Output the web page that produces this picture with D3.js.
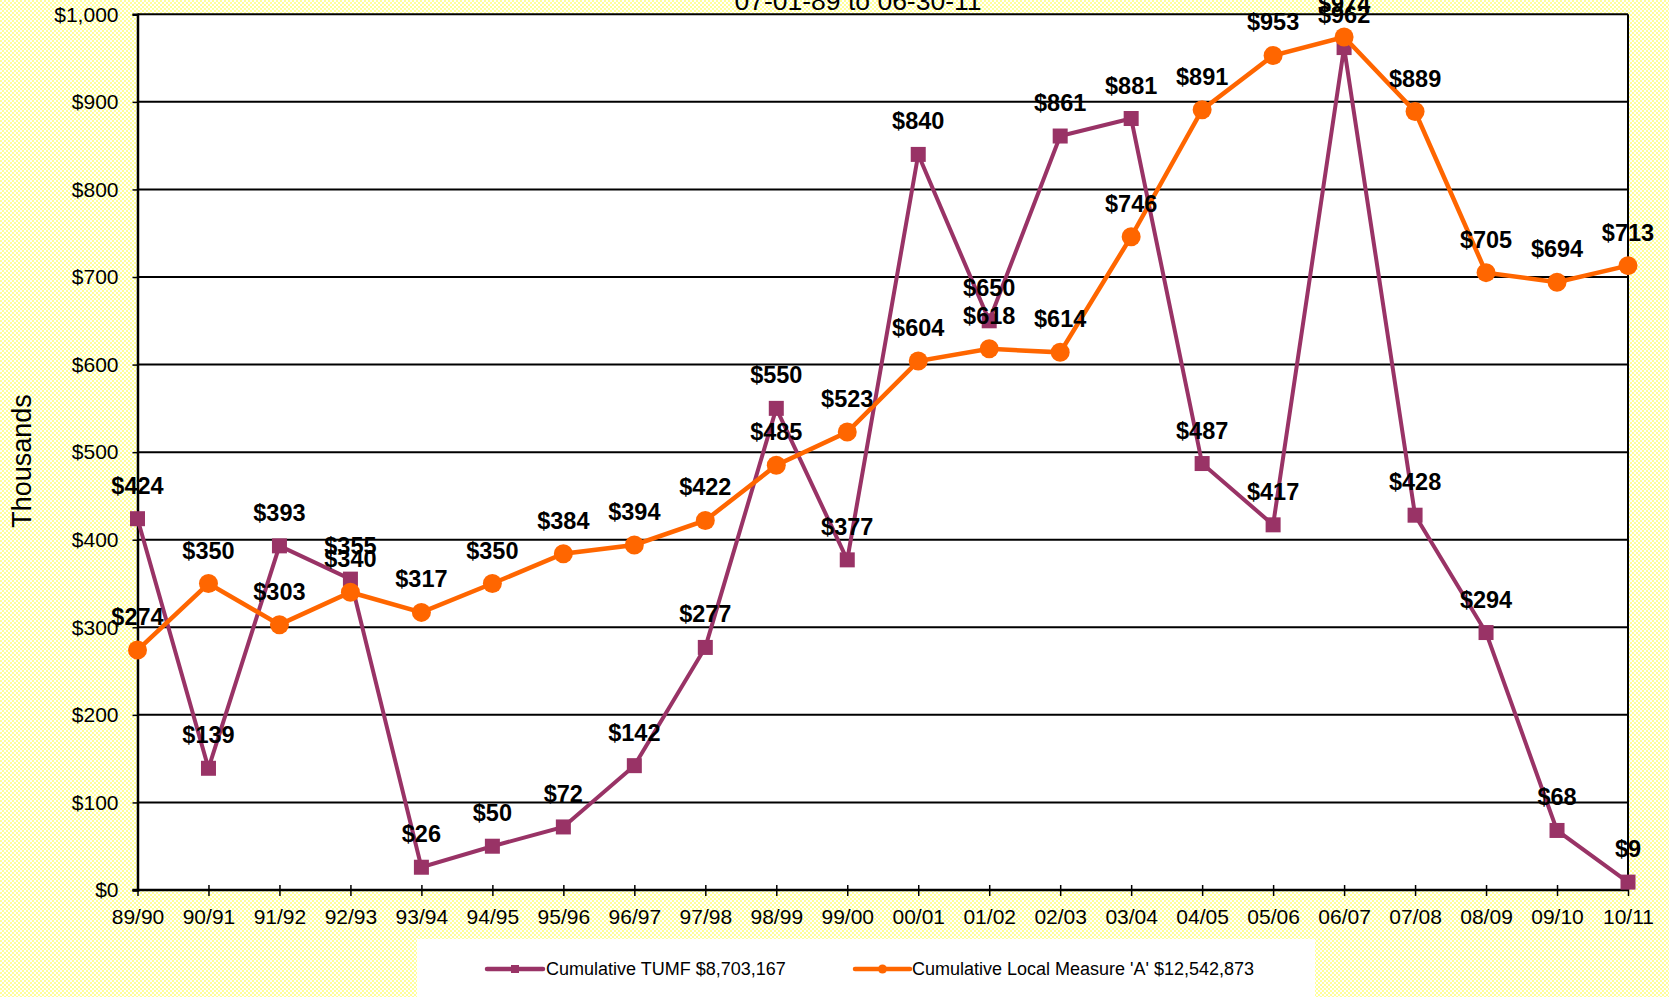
<!DOCTYPE html>
<html>
<head>
<meta charset="utf-8">
<script src="https://cdn.jsdelivr.net/npm/d3@7"></script>
<style>
  html, body { margin: 0; padding: 0; background: #fff; }
  svg { display: block; font-family: "Liberation Sans", Arial, sans-serif; }
</style>
</head>
<body>
<div id="chart"></div>
<script>
// Fiscal years and values (thousands of dollars)
const years = ['89/90', '90/91', '91/92', '92/93', '93/94', '94/95', '95/96', '96/97', '97/98', '98/99', '99/00',
  '00/01', '01/02', '02/03', '03/04', '04/05', '05/06', '06/07', '07/08', '08/09', '09/10', '10/11'];
const tumf = [424, 139, 393, 355, 26, 50, 72, 142, 277, 550, 377, 840, 650, 861, 881, 487, 417, 962, 428, 294, 68, 9];
const measureA = [274, 350, 303, 340, 317, 350, 384, 394, 422, 485, 523, 604, 618, 614, 746, 891, 953, 974, 889, 705, 694, 713];
const yTicks = [0, 100, 200, 300, 400, 500, 600, 700, 800, 900, 1000];
const legendLabels = ['Cumulative TUMF $8,703,167', "Cumulative Local Measure 'A' $12,542,873"];
const subtitle = '07-01-89 to 06-30-11';

const W = 1669, H = 997;
const PURPLE = '#993366', ORANGE = '#ff6600';

const svg = d3.select('#chart').append('svg')
  .attr('width', W).attr('height', H);

// Yellow checkerboard background
const defs = svg.append('defs');
const pat = defs.append('pattern')
  .attr('id', 'checks').attr('width', 4).attr('height', 4)
  .attr('patternUnits', 'userSpaceOnUse');
pat.append('rect').attr('width', 4).attr('height', 4).attr('fill', '#ffffff');
pat.append('rect').attr('width', 2).attr('height', 2).attr('fill', '#ffff99');
pat.append('rect').attr('x', 2).attr('y', 2).attr('width', 2).attr('height', 2).attr('fill', '#ffff99');
svg.append('rect').attr('width', W).attr('height', H).attr('fill', 'url(#checks)');

const x = d3.scalePoint().domain(years).range([137.5, 1628]).padding(0);
const y = d3.scaleLinear().domain([0, 1000]).range([890, 14.3]);

// plot area
svg.append('rect')
  .attr('x', x.range()[0]).attr('y', y(1000))
  .attr('width', x.range()[1] - x.range()[0]).attr('height', y(0) - y(1000))
  .attr('fill', '#fff');

// gridlines
svg.append('g').selectAll('line').data(yTicks).join('line')
  .attr('x1', x.range()[0]).attr('x2', x.range()[1])
  .attr('y1', d => y(d)).attr('y2', d => y(d))
  .attr('stroke', '#000').attr('stroke-width', 2);

// right border
svg.append('line')
  .attr('x1', x.range()[1]).attr('x2', x.range()[1])
  .attr('y1', y(1000)).attr('y2', y(0))
  .attr('stroke', '#000').attr('stroke-width', 2);

// y axis
const yAxis = svg.append('g')
  .attr('transform', `translate(${x.range()[0]},0)`)
  .call(d3.axisLeft(y).tickValues(yTicks).tickSize(5).tickPadding(14)
    .tickFormat(d => '$' + d3.format(',')(d)));
yAxis.select('.domain').attr('stroke', '#000').attr('stroke-width', 2.5);
yAxis.selectAll('.tick line').attr('stroke', '#000').attr('stroke-width', 1.5);
yAxis.selectAll('.tick text').attr('font-size', 21).attr('fill', '#000')
  .attr('font-family', '"Liberation Sans", Arial, sans-serif');

// x axis
const xAxis = svg.append('g')
  .attr('transform', `translate(0,${y(0)})`)
  .call(d3.axisBottom(x).tickSize(0).tickPadding(0));
xAxis.select('.domain').remove();
xAxis.selectAll('.tick line').remove();
xAxis.selectAll('.tick').append('line')
  .attr('y1', -5).attr('y2', 6).attr('stroke', '#000').attr('stroke-width', 1.5);
xAxis.selectAll('.tick text')
  .attr('y', 34).attr('dy', null)
  .attr('font-size', 21).attr('fill', '#000')
  .attr('font-family', '"Liberation Sans", Arial, sans-serif');
svg.append('line')
  .attr('x1', x.range()[0] - 5).attr('x2', x.range()[1])
  .attr('y1', y(0)).attr('y2', y(0))
  .attr('stroke', '#000').attr('stroke-width', 2.5);

// axis title
svg.append('text')
  .attr('transform', `translate(22,461) rotate(-90)`)
  .attr('text-anchor', 'middle').attr('dominant-baseline', 'central')
  .attr('font-size', 27).text('Thousands');

// subtitle, cut at the top
svg.append('text')
  .attr('x', 858).attr('y', 10)
  .attr('text-anchor', 'middle').attr('font-size', 26.5)
  .text(subtitle);

// series
const line = d3.line().x((d, i) => x(years[i])).y(d => y(d));

svg.append('path').datum(tumf)
  .attr('d', line).attr('fill', 'none')
  .attr('stroke', PURPLE).attr('stroke-width', 4).attr('stroke-linejoin', 'miter');
svg.append('g').selectAll('rect').data(tumf).join('rect')
  .attr('x', (d, i) => x(years[i]) - 7.5).attr('y', d => y(d) - 7.5)
  .attr('width', 15).attr('height', 15).attr('fill', PURPLE);

svg.append('path').datum(measureA)
  .attr('d', line).attr('fill', 'none')
  .attr('stroke', ORANGE).attr('stroke-width', 4.5);
svg.append('g').selectAll('circle').data(measureA).join('circle')
  .attr('cx', (d, i) => x(years[i])).attr('cy', d => y(d))
  .attr('r', 9.5).attr('fill', ORANGE);

// data labels
function labels(data) {
  svg.append('g').selectAll('text').data(data).join('text')
    .attr('x', (d, i) => x(years[i])).attr('y', d => y(d) - 25)
    .attr('text-anchor', 'middle')
    .attr('font-size', 23.5).attr('font-weight', 'bold')
    .text(d => '$' + d);
}
labels(measureA);
labels(tumf);

// legend
const lg = svg.append('g');
lg.append('rect').attr('x', 417).attr('y', 939).attr('width', 898).attr('height', 70).attr('fill', '#fff');
const legendItems = [
  { x1: 487, x2: 543, tx: 546, color: PURPLE, shape: 'square' },
  { x1: 855, x2: 910, tx: 912, color: ORANGE, shape: 'circle' }
];
legendItems.forEach((it, i) => {
  lg.append('line').attr('x1', it.x1).attr('x2', it.x2).attr('y1', 969).attr('y2', 969)
    .attr('stroke', it.color).attr('stroke-width', 4.5).attr('stroke-linecap', 'round');
  const cx = (it.x1 + it.x2) / 2;
  if (it.shape === 'square') {
    lg.append('rect').attr('x', cx - 4).attr('y', 965).attr('width', 8).attr('height', 8).attr('fill', it.color);
  } else {
    lg.append('circle').attr('cx', cx).attr('cy', 969).attr('r', 4.5).attr('fill', it.color);
  }
  lg.append('text').attr('x', it.tx).attr('y', 975)
    .attr('font-size', 18).text(legendLabels[i]);
});
</script>
</body>
</html>
